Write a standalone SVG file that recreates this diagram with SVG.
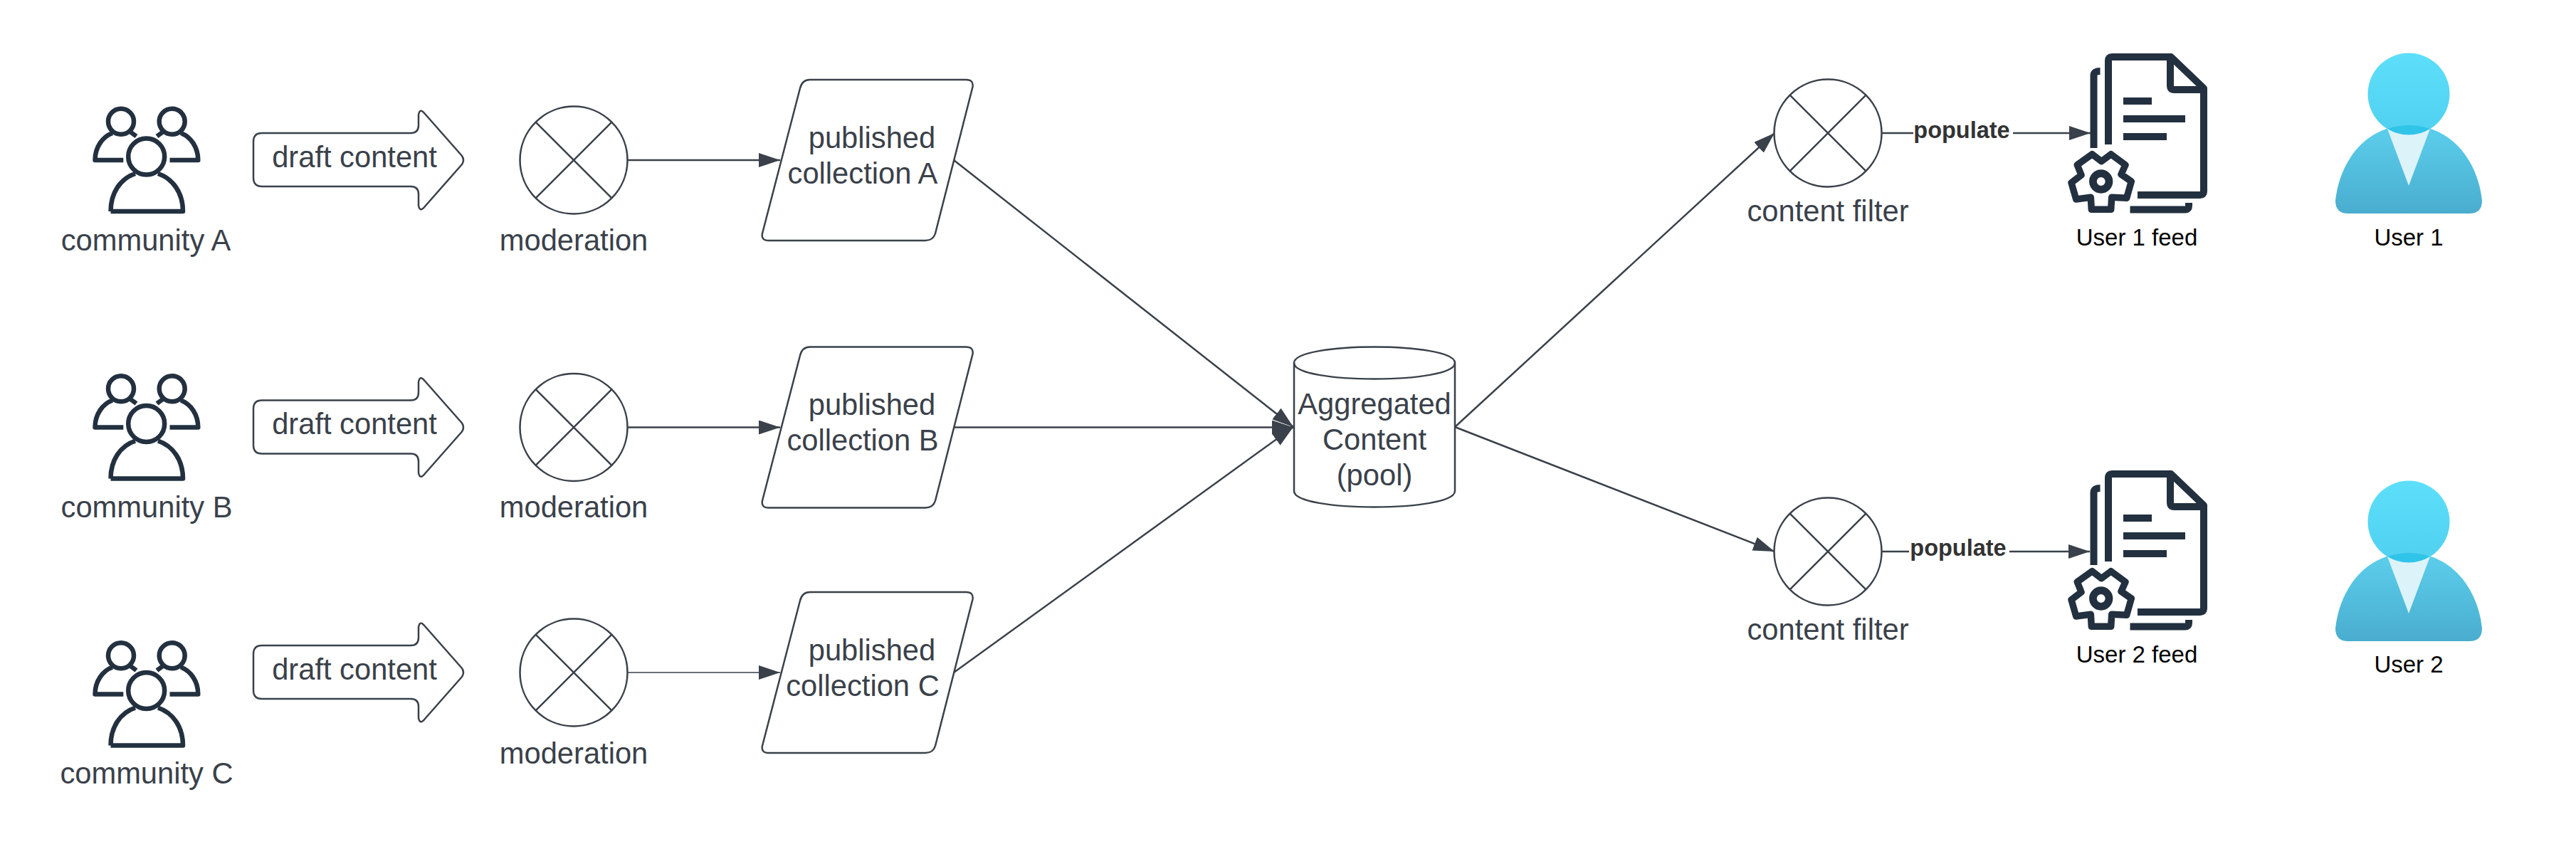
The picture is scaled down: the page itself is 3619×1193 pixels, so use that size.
<svg xmlns="http://www.w3.org/2000/svg" width="3619" height="1193" viewBox="0 0 3619 1193">
<style>
text{font-family:"Liberation Sans",Arial,sans-serif;text-anchor:middle}
.t{font-size:41.7px;fill:#3a414a}
.k{font-size:33px;fill:#000}
.b{font-size:32.5px;font-weight:bold;fill:#333}
.s{fill:#fff;stroke:#3a414a;stroke-width:2.5;stroke-linejoin:round}
.x{stroke:#3a414a;stroke-width:2.5;fill:none}
.i{fill:none;stroke:#22303f;stroke-width:6.5;stroke-linejoin:round}
.d{fill:none;stroke:#22303f;stroke-width:10;stroke-linejoin:round}
.f{fill:#22303f}
.c{stroke:#3a414a;stroke-width:2.5;fill:none}
</style>
<defs>
<marker id="ah" markerUnits="userSpaceOnUse" markerWidth="32" markerHeight="22" refX="30" refY="10" orient="auto"><path d="M0 0L30 10L0 20Z" fill="#3a414a"/></marker>
<linearGradient id="gh" x1="0" y1="0" x2="0" y2="1"><stop offset="0" stop-color="#5ddffa"/><stop offset="1" stop-color="#50d0f0"/></linearGradient>
<linearGradient id="gb" x1="0" y1="0" x2="0" y2="1"><stop offset="0" stop-color="#5ccfec"/><stop offset="1" stop-color="#4aadcf"/></linearGradient>
<g id="people">
<circle class="i" cx="170" cy="170.700" r="18"/>
<circle class="i" cx="241.700" cy="170.700" r="18"/>
<path class="i" d="M173.300 225H133.500C133.500 207 144 192 158 187"/>
<path class="i" d="M238.500 225H278.300C278.300 207 268 192 254 187"/>
<path class="i" d="M182 184.500L191.500 191.500M230 184.500L220.500 191.500"/>
<circle class="i" cx="205.700" cy="220" r="25.500"/>
<path class="i" d="M155.500 297H257C257 271 243 251 222 244M155.500 297C155.500 271 169 251 190 244"/>
</g>
<g id="arrow"><path class="s" d="M368 187H577Q588 187 588 176V161Q590 151 597 160L649 219Q653 225 649 231L597 290Q590 299 588 289V273Q588 262 577 262H368Q356 262 356 250V199Q356 187 368 187Z"/></g>
<g id="xc"><circle class="s" cx="0" cy="0" r="75.500"/><path class="x" d="M-53.400 -53.400L53.400 53.400M-53.400 53.400L53.400 -53.400"/></g>
<g id="para"><path class="s" d="M1138 112H1357Q1368 112 1366.500 122L1314 328Q1311 338 1300 338H1080Q1069 338 1071 328L1124 124Q1127 112 1138 112Z"/></g>
<g id="doc">
<path class="d" d="M2962 203V85Q2962 80 2967 80H3050L3096 124V269Q3096 274 3091 274H3003"/>
<path class="d" d="M3049 80V121Q3049 126 3054 126H3096"/>
<path class="d" d="M2941.500 208V106Q2941.500 100 2950.500 100"/>
<path class="d" d="M2992.500 294.500H3070Q3075 294.500 3075 289.500V285"/>
<rect class="f" x="2983" y="137" width="40" height="10"/>
<rect class="f" x="2983" y="162" width="87" height="10"/>
<rect class="f" x="2983" y="187" width="61" height="10"/>
<path class="d" style="stroke-width:9.500" d="M2952.300 226.700L2965.700 216.700L2986 231.700L2980 245L2994.300 255L2987.700 278.300L2966.700 277.300L2965.700 294.300H2938.300L2937.300 277.300L2916.700 280L2910 256.700L2924 246L2918.300 231.700L2939.300 216.700Z"/>
<circle cx="2951.700" cy="255" r="11.300" fill="none" stroke="#22303f" stroke-width="10.700"/>
</g>
<g id="user">
<circle cx="3384" cy="132" r="57.500" fill="url(#gh)"/>
<path d="M3299 300Q3281 300 3281 282C3287 225 3325 176 3384 176C3443 176 3481 225 3487 282Q3487 300 3469 300Z" fill="url(#gb)"/>
<path d="M3354 181L3384 261L3414 181Z" fill="#dcf3fa"/>
<path d="M3354 181Q3384 171 3414 181A57.500 57.500 0 0 1 3354 181Z" fill="#30c4e9"/>
</g>
</defs>
<g id="connectors">
<path class="c" d="M882 225H1096" marker-end="url(#ah)"/>
<path class="c" d="M882 600.500H1096" marker-end="url(#ah)"/>
<path class="c" style="stroke-width:1.500" d="M882 945H1096" marker-end="url(#ah)"/>
<path class="c" d="M1340 225L1817 600" marker-end="url(#ah)"/>
<path class="c" d="M1340 600.500H1817" marker-end="url(#ah)"/>
<path class="c" d="M1340 945L1817 600" marker-end="url(#ah)"/>
<path class="c" d="M2044 600L2493 187" marker-end="url(#ah)"/>
<path class="c" d="M2044 600L2493 775" marker-end="url(#ah)"/>
<path class="c" d="M2643 187H2937" marker-end="url(#ah)"/>
<path class="c" d="M2644 775H2936" marker-end="url(#ah)"/>
<rect x="2688" y="164" width="140" height="42" fill="#fff"/>
<text class="b" x="2756" y="194">populate</text>
<rect x="2682" y="752" width="141" height="42" fill="#fff"/>
<text class="b" x="2751" y="781">populate</text>
</g>
<g id="community-a"><use href="#people"/><text class="t" x="205" y="352">community A</text></g>
<g id="community-b"><use href="#people" y="375.500"/><text class="t" x="206" y="727">community B</text></g>
<g id="community-c"><use href="#people" y="750.500"/><text class="t" x="206" y="1101">community C</text></g>
<g id="draft-a"><use href="#arrow"/><text class="t" x="498" y="235">draft content</text></g>
<g id="draft-b"><use href="#arrow" y="375.500"/><text class="t" x="498" y="610">draft content</text></g>
<g id="draft-c"><use href="#arrow" y="720"/><text class="t" x="498" y="955">draft content</text></g>
<g id="moderation-a"><use href="#xc" x="806" y="225"/><text class="t" x="806" y="352">moderation</text></g>
<g id="moderation-b"><use href="#xc" x="806" y="600.500"/><text class="t" x="806" y="727">moderation</text></g>
<g id="moderation-c"><use href="#xc" x="806" y="945"/><text class="t" x="806" y="1073">moderation</text></g>
<g id="collection-a"><use href="#para"/><text class="t" x="1225" y="208">published</text><text class="t" x="1212" y="258">collection A</text></g>
<g id="collection-b"><use href="#para" y="375.500"/><text class="t" x="1225" y="583">published</text><text class="t" x="1212" y="633">collection B</text></g>
<g id="collection-c"><use href="#para" y="720"/><text class="t" x="1225" y="928">published</text><text class="t" x="1212" y="978">collection C</text></g>
<g id="pool">
<path class="s" d="M1818 510C1818 480 2044 480 2044 510V690C2044 720 1818 720 1818 690Z"/>
<path class="x" d="M1818 510C1818 540 2044 540 2044 510"/>
<text class="t" x="1931" y="582">Aggregated</text><text class="t" x="1931" y="632">Content</text><text class="t" x="1931" y="682">(pool)</text>
</g>
<g id="filter-1"><use href="#xc" x="2568" y="187"/><text class="t" x="2568" y="311">content filter</text></g>
<g id="filter-2"><use href="#xc" x="2568" y="775"/><text class="t" x="2568" y="899">content filter</text></g>
<g id="feed-1"><use href="#doc"/><text class="k" x="3002" y="345">User 1 feed</text></g>
<g id="feed-2"><use href="#doc" y="586"/><text class="k" x="3002" y="931">User 2 feed</text></g>
<g id="user-1"><use href="#user"/><text class="k" x="3384" y="345">User 1</text></g>
<g id="user-2"><use href="#user" y="601"/><text class="k" x="3384" y="945">User 2</text></g>
</svg>
